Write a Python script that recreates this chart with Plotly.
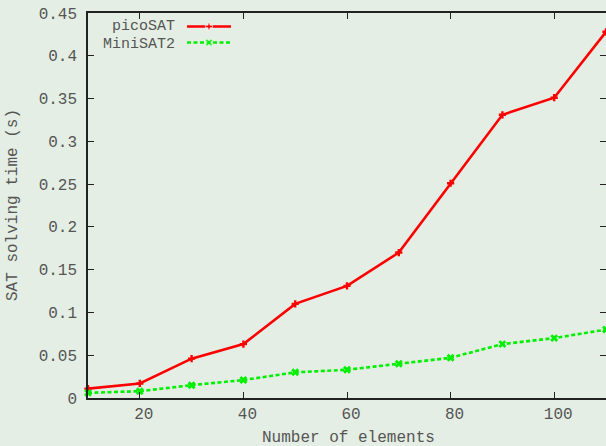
import plotly.graph_objects as go

elements = [10, 20, 30, 40, 50, 60, 70, 80, 90, 100, 110]
picosat = [0.011, 0.017, 0.046, 0.063, 0.110, 0.131, 0.170, 0.251, 0.331, 0.351, 0.428]
minisat2 = [0.006, 0.008, 0.015, 0.021, 0.030, 0.033, 0.040, 0.047, 0.063, 0.070, 0.080]
series_names = ["picoSAT", "MiniSAT2"]
x_ticks = [20, 40, 60, 80, 100]
y_ticks = [0, 0.05, 0.1, 0.15, 0.2, 0.25, 0.3, 0.35, 0.4, 0.45]
y_tick_labels = ["0", "0.05", "0.1", "0.15", "0.2", "0.25", "0.3", "0.35", "0.4", "0.45"]
x_title = "Number of elements"
y_title = "SAT solving time (s)"

W, H = 606, 446
L, R, T, B = 88, 0, 13, 48
BG = "#e4eee4"
FONT = "Liberation Mono, Courier New, monospace"
FS = 16
KEY_FS = 15
TXT = "#555555"
RED = "#ff0000"
GREEN = "#00f000"


def px(xp):
    return (xp - L) / (W - L - R)


def py(yp):
    return (H - B - yp) / (H - T - B)


fig = go.Figure()
fig.add_trace(go.Scatter(x=elements, y=picosat, mode="lines+markers", name=series_names[0],
                         line=dict(color=RED, width=2.6),
                         marker=dict(symbol="cross", size=6, color=RED),
                         cliponaxis=False, showlegend=False))
fig.add_trace(go.Scatter(x=elements, y=minisat2, mode="lines+markers", name=series_names[1],
                         line=dict(color=GREEN, width=2.6, dash="4px,2.5px"),
                         marker=dict(symbol="x", size=7, color=GREEN),
                         cliponaxis=False, showlegend=False))

# gnuplot-style key (text left, sample right) drawn on a pixel-space overlay axis
key_specs = [(series_names[0], RED, "solid", "cross", 6, 26.5, 26.0),
             (series_names[1], GREEN, "4px,2.5px", "x", 7, 42.5, 44.0)]
for name, col, dash, sym, ms, ly, ty in key_specs:
    fig.add_trace(go.Scatter(x=[187, 209, 231], y=[ly, ly, ly], mode="lines+markers",
                             xaxis="x2", yaxis="y2", showlegend=False, hoverinfo="skip",
                             cliponaxis=False,
                             line=dict(color=col, width=2.6, dash=dash),
                             marker=dict(symbol=sym, size=[0, ms, 0], color=col)))
    fig.add_annotation(x=px(176), y=py(ty), xref="paper", yref="paper", text=name, showarrow=False,
                       xanchor="right", yanchor="middle", borderpad=0,
                       font=dict(family=FONT, size=KEY_FS, color=TXT))

# axis titles placed as in the reference
fig.add_annotation(x=px(348), y=py(438), xref="paper", yref="paper", text=x_title, showarrow=False,
                   xanchor="center", yanchor="middle", font=dict(family=FONT, size=FS, color=TXT))
fig.add_annotation(x=px(13), y=py(205), xref="paper", yref="paper", text=y_title, showarrow=False,
                   textangle=-90, xanchor="center", yanchor="middle",
                   font=dict(family=FONT, size=FS, color=TXT))

axis_common = dict(showgrid=False, zeroline=False, showline=True, linecolor="#222222",
                   linewidth=1.5, mirror="ticks", ticks="inside", ticklen=6,
                   tickcolor="#222222", tickwidth=1, automargin=False,
                   tickfont=dict(family=FONT, size=FS, color=TXT))

fig.update_layout(
    width=W, height=H,
    margin=dict(l=L, r=R, t=T, b=B),
    paper_bgcolor=BG, plot_bgcolor=BG,
    xaxis=dict(range=[10, 110], tickvals=x_ticks, ticklabelshift=4, ticklabelstandoff=0,
               **axis_common),
    yaxis=dict(range=[0, 0.45], tickvals=y_ticks, ticktext=y_tick_labels, ticklabelstandoff=6,
               **axis_common),
    xaxis2=dict(overlaying="x", range=[L, W - R], visible=False, fixedrange=True),
    yaxis2=dict(overlaying="y", range=[H - B, T], visible=False, fixedrange=True),
    showlegend=False,
)

fig.write_html("out.html", config={"displayModeBar": False},
               post_script="document.body.style.margin='0';document.body.style.background='%s';" % BG)
